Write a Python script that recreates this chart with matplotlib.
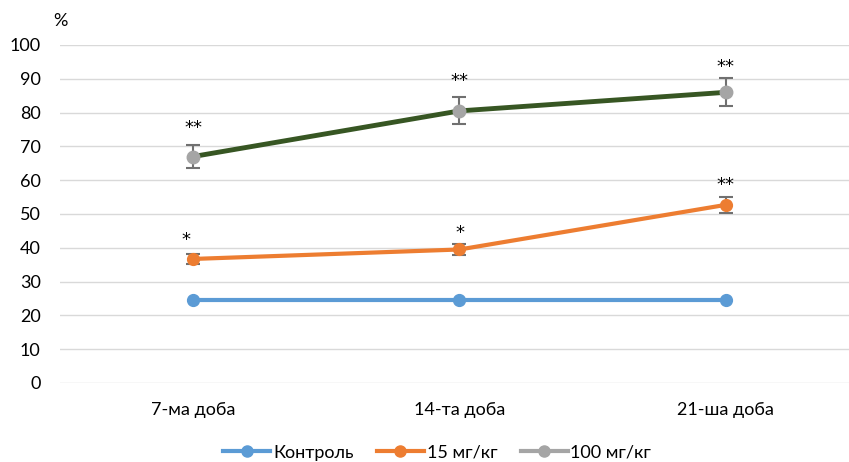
import matplotlib.pyplot as plt
from matplotlib.lines import Line2D
import numpy as np

plt.rcParams['font.family'] = ['Lato', 'DejaVu Sans']

# data
days = ['7-ма доба', '14-та доба', '21-ша доба']
control = [24.5, 24.5, 24.5]
dose15 = [36.7, 39.5, 52.7]
dose15_err = [1.5, 1.7, 2.3]
dose100 = [67.0, 80.5, 86.0]
dose100_err = [3.4, 4.0, 4.1]
stars15 = ['*', '*', '**']
stars100 = ['**', '**', '**']

c_blue = '#5B9BD5'
c_orange = '#ED7D31'
c_gray = '#A5A5A5'
c_green = '#375623'
c_err = '#707070'

fig = plt.figure(figsize=(8.49, 4.62), dpi=100)
ax = fig.add_axes([0.0707, 0.171, 0.941, 0.7316])
x = np.arange(len(days))

ax.plot(x, control, color=c_blue, linewidth=3, marker='o', markersize=8.5, zorder=3)
ax.errorbar(x, dose15, yerr=dose15_err, color=c_orange, linewidth=3, marker='o', markersize=8.5,
            ecolor=c_err, elinewidth=1.5, capsize=5, capthick=1.5, zorder=3)
ax.plot(x, dose100, color=c_green, linewidth=3.5, zorder=3)
ax.errorbar(x, dose100, yerr=dose100_err, fmt='o', color=c_gray, markersize=9,
            ecolor=c_err, elinewidth=1.5, capsize=5, capthick=1.5, zorder=4)

# asterisk placement (offsets above error bar tops, in points)
off15 = [(-5, 10), (0, 8), (0, 8.5)]
off100 = [(0, 12), (0, 12), (0, 8)]
for i in range(len(days)):
    ax.annotate(stars15[i], (x[i], dose15[i] + dose15_err[i]), xytext=off15[i],
                textcoords='offset points', ha='center', va='center', fontsize=13, family='DejaVu Sans')
    ax.annotate(stars100[i], (x[i], dose100[i] + dose100_err[i]), xytext=off100[i],
                textcoords='offset points', ha='center', va='center', fontsize=13, family='DejaVu Sans')

ax.set_xlim(-0.5, 2.5)
ax.set_ylim(0, 100)
ax.set_yticks(range(0, 101, 10))
ax.set_xticks(x)
ax.set_xticklabels(days)
ax.tick_params(axis='both', length=0, labelsize=13, colors='#000000')
ax.tick_params(axis='x', pad=14)
ax.tick_params(axis='y', pad=14)
ax.grid(axis='y', color='#D9D9D9', linewidth=1)
ax.set_axisbelow(True)
for s in ax.spines.values():
    s.set_visible(False)
ax.text(0.063, 0.955, '%', transform=fig.transFigure, fontsize=13, ha='left', va='center')

handles = [
    Line2D([], [], color=c_blue, linewidth=3, marker='o', markersize=8),
    Line2D([], [], color=c_orange, linewidth=3, marker='o', markersize=8),
    Line2D([], [], color=c_gray, linewidth=3, marker='o', markersize=8),
]
fig.legend(handles, ['Контроль', '15 мг/кг', '100 мг/кг'], loc='center', bbox_to_anchor=(0.515, 0.02),
           ncol=3, frameon=False, fontsize=13, handlelength=2.6, handletextpad=0.15, columnspacing=1.3)

fig.savefig('out.png', dpi=100)
